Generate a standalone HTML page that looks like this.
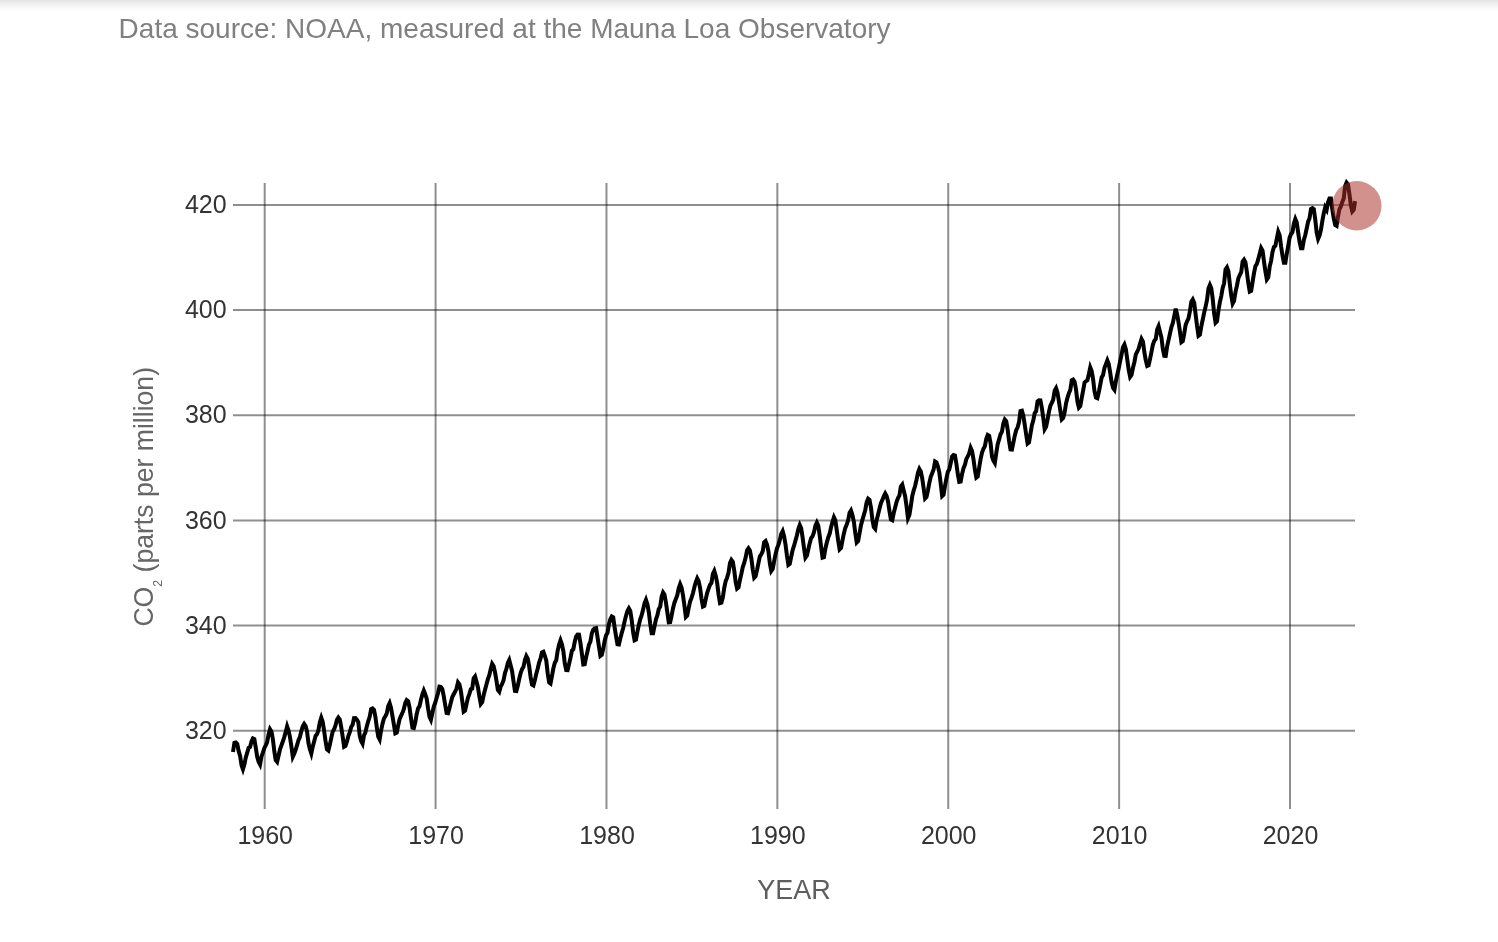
<!DOCTYPE html>
<html><head><meta charset="utf-8"><style>
html,body{margin:0;padding:0;background:#fff;}
body{width:1498px;height:942px;overflow:hidden;position:relative;font-family:"Liberation Sans",sans-serif;}
.shadow{position:absolute;left:0;top:0;width:1498px;height:12px;background:linear-gradient(to bottom,rgba(0,0,0,0.11),rgba(0,0,0,0.05) 40%,rgba(0,0,0,0.01) 80%,rgba(0,0,0,0));}
svg{position:absolute;left:0;top:0;will-change:transform;}
</style></head><body>
<div class="shadow"></div>
<svg width="1498" height="942" viewBox="0 0 1498 942" font-family="Liberation Sans, sans-serif">
<text x="118.6" y="38" font-size="28" fill="#808080">Data source: NOAA, measured at the Mauna Loa Observatory</text>
<g stroke="rgba(0,0,0,0.44)" stroke-width="2" fill="none">
<line x1="233" y1="204.90" x2="1355" y2="204.90"/>
<line x1="233" y1="310.06" x2="1355" y2="310.06"/>
<line x1="233" y1="415.22" x2="1355" y2="415.22"/>
<line x1="233" y1="520.38" x2="1355" y2="520.38"/>
<line x1="233" y1="625.54" x2="1355" y2="625.54"/>
<line x1="233" y1="730.70" x2="1355" y2="730.70"/>
<line x1="264.70" y1="183" x2="264.70" y2="809"/>
<line x1="435.58" y1="183" x2="435.58" y2="809"/>
<line x1="606.47" y1="183" x2="606.47" y2="809"/>
<line x1="777.35" y1="183" x2="777.35" y2="809"/>
<line x1="948.23" y1="183" x2="948.23" y2="809"/>
<line x1="1119.12" y1="183" x2="1119.12" y2="809"/>
<line x1="1290.00" y1="183" x2="1290.00" y2="809"/>
</g>
<g font-size="25" fill="#333" text-anchor="end">
<text x="226.6" y="213.1">420</text>
<text x="226.6" y="318.3">400</text>
<text x="226.6" y="423.4">380</text>
<text x="226.6" y="528.6">360</text>
<text x="226.6" y="633.7">340</text>
<text x="226.6" y="738.9">320</text>
</g>
<g font-size="25" fill="#333" text-anchor="middle">
<text x="265.2" y="843.5">1960</text>
<text x="436.1" y="843.5">1970</text>
<text x="607.0" y="843.5">1980</text>
<text x="777.8" y="843.5">1990</text>
<text x="948.7" y="843.5">2000</text>
<text x="1119.6" y="843.5">2010</text>
<text x="1290.5" y="843.5">2020</text>
</g>
<text x="794" y="898.8" font-size="27" fill="#5e5e5e" text-anchor="middle">YEAR</text>
<text transform="translate(153.4,626.6) rotate(-90) scale(0.986,1.055)" font-size="27" fill="#666">CO<tspan font-size="12.5" dy="8.3">2</tspan><tspan dy="-8.3"> (parts per million)</tspan></text>
<polyline points="232.98,752.01 234.41,742.81 235.83,742.49 237.26,743.91 238.68,751.17 240.10,756.06 241.53,765.15 242.95,769.20 244.38,764.47 245.80,757.43 247.22,752.64 248.65,747.91 250.07,747.01 251.50,741.39 252.92,738.39 254.34,739.13 255.77,747.59 257.19,756.74 258.62,761.79 260.04,764.47 261.46,756.69 262.89,752.64 264.31,748.17 265.74,745.28 267.16,742.12 268.58,734.50 270.01,729.24 271.43,731.56 272.86,738.97 274.28,750.91 275.70,760.11 277.13,761.84 278.55,755.69 279.98,749.43 281.40,745.54 282.82,741.49 284.25,737.08 285.67,732.13 287.10,726.35 288.52,730.61 289.94,736.92 291.37,746.28 292.79,756.74 294.22,753.69 295.64,749.91 297.06,745.12 298.49,740.23 299.91,737.02 301.34,731.08 302.76,726.40 304.18,724.04 305.61,726.14 307.03,731.45 308.46,743.07 309.88,749.12 311.30,753.48 312.73,746.80 314.15,741.49 315.58,736.03 317.00,734.29 318.43,730.14 319.85,722.14 321.27,717.57 322.70,721.62 324.12,730.77 325.55,741.13 326.97,749.33 328.39,750.48 329.82,744.81 331.24,738.08 332.67,731.66 334.09,729.35 335.51,725.51 336.94,719.73 338.36,717.52 339.79,719.46 341.21,727.09 342.63,736.29 344.06,746.75 345.48,745.86 346.91,741.60 348.33,736.18 349.75,732.34 351.18,727.09 352.60,724.72 354.03,718.20 355.45,718.04 356.87,719.57 358.30,722.09 359.72,735.71 361.15,740.92 362.57,743.60 363.99,735.34 365.42,732.45 366.84,726.14 368.27,721.04 369.69,716.83 371.11,709.05 372.54,708.32 373.96,709.68 375.39,716.83 376.81,727.45 378.23,736.55 379.66,739.39 381.08,730.50 382.51,723.72 383.93,718.52 385.35,716.26 386.78,713.42 388.20,706.16 389.63,703.11 391.05,707.89 392.47,716.04 393.90,724.56 395.32,733.34 396.75,732.61 398.17,725.56 399.59,719.09 401.02,715.89 402.44,712.84 403.87,708.95 405.29,703.00 406.71,700.11 408.14,701.22 409.56,707.63 410.99,718.31 412.41,727.66 413.83,728.09 415.26,722.46 416.68,714.20 418.11,708.37 419.53,706.16 420.96,699.80 422.38,694.38 423.80,690.60 425.23,694.12 426.65,698.43 428.08,708.47 429.50,716.78 430.92,719.83 432.35,713.05 433.77,706.58 435.20,702.79 436.62,697.96 438.04,692.96 439.47,686.60 440.89,686.92 442.32,689.07 443.74,696.06 445.16,704.74 446.59,713.10 448.01,713.31 449.44,708.32 450.86,702.43 452.28,696.96 453.71,694.28 455.13,691.70 456.56,688.44 457.98,682.45 459.40,684.34 460.83,690.70 462.25,700.85 463.68,711.73 465.10,710.68 466.52,704.16 467.95,697.80 469.37,693.80 470.80,689.28 472.22,688.65 473.64,678.29 475.07,676.45 476.49,681.60 477.92,687.13 479.34,696.17 480.76,703.95 482.19,702.06 483.61,695.22 485.04,689.70 486.46,684.44 487.88,679.13 489.31,675.24 490.73,668.93 492.16,663.78 493.58,665.94 495.00,672.25 496.43,680.45 497.85,689.91 499.28,691.65 500.70,686.49 502.12,683.97 503.55,680.24 504.97,673.09 506.40,669.04 507.82,662.89 509.24,659.99 510.67,665.46 512.09,671.19 513.52,681.45 514.94,690.91 516.36,691.12 517.79,685.76 519.21,679.03 520.64,672.98 522.06,669.14 523.49,666.83 524.91,660.15 526.33,656.10 527.76,658.68 529.18,666.41 530.61,677.08 532.03,684.71 533.45,685.55 534.88,680.13 536.30,673.77 537.73,668.46 539.15,662.36 540.57,658.31 542.00,652.42 543.42,651.74 544.85,655.79 546.27,660.73 547.69,673.24 549.12,682.34 550.54,683.39 551.97,676.03 553.39,668.30 554.81,662.83 556.24,660.36 557.66,650.79 559.09,644.59 560.51,640.38 561.93,644.38 563.36,651.16 564.78,663.36 566.21,670.04 567.63,670.14 569.05,664.15 570.48,657.89 571.90,650.79 573.33,649.22 574.75,641.80 576.17,636.39 577.60,634.60 579.02,634.70 580.45,643.12 581.87,653.63 583.29,664.36 584.72,664.15 586.14,657.10 587.57,651.06 588.99,644.54 590.41,641.64 591.84,633.34 593.26,629.76 594.69,628.39 596.11,628.13 597.53,637.17 598.96,646.59 600.38,655.89 601.81,654.79 603.23,648.90 604.65,641.01 606.08,635.28 607.50,632.97 608.93,624.19 610.35,619.35 611.77,616.46 613.20,617.25 614.62,627.39 616.05,636.33 617.47,644.27 618.89,644.48 620.32,638.59 621.74,633.07 623.17,627.97 624.59,621.35 626.02,615.77 627.44,610.94 628.86,608.31 630.29,610.88 631.71,620.14 633.14,632.44 634.56,640.28 635.98,639.59 637.41,631.71 638.83,624.87 640.26,619.19 641.68,615.14 643.10,609.47 644.53,603.37 645.95,599.90 647.38,604.31 648.80,612.04 650.22,623.77 651.65,633.28 653.07,633.23 654.50,626.34 655.92,619.51 657.34,615.41 658.77,608.99 660.19,606.73 661.62,596.64 663.04,592.53 664.46,594.64 665.89,602.21 667.31,612.30 668.74,622.40 670.16,622.24 671.58,615.88 673.01,608.20 674.43,602.68 675.86,599.05 677.28,595.22 678.70,588.28 680.13,584.12 681.55,587.59 682.98,595.16 684.40,605.57 685.82,616.88 687.25,615.46 688.67,608.15 690.10,601.68 691.52,597.84 692.94,593.22 694.37,587.17 695.79,582.07 697.22,578.34 698.64,581.14 700.06,587.77 701.49,598.77 702.91,606.51 704.34,605.80 705.76,599.05 707.18,592.83 708.61,588.56 710.03,584.75 711.46,582.84 712.88,573.89 714.30,570.98 715.73,575.68 717.15,582.91 718.58,594.60 720.00,603.04 721.42,602.58 722.85,597.27 724.27,587.70 725.70,581.18 727.12,577.65 728.55,572.66 729.97,563.14 731.39,559.88 732.82,561.83 734.24,570.45 735.67,582.12 737.09,588.64 738.51,587.50 739.94,579.92 741.36,573.90 742.79,567.05 744.21,562.93 745.63,557.60 747.06,550.38 748.48,548.37 749.91,550.51 751.33,558.32 752.75,569.35 754.18,577.64 755.60,576.16 757.03,570.17 758.45,563.18 759.87,556.40 761.30,554.30 762.72,551.20 764.15,542.37 765.57,541.11 766.99,544.52 768.42,551.35 769.84,563.49 771.27,571.01 772.69,569.02 774.11,561.28 775.54,554.22 776.96,548.42 778.39,544.89 779.81,540.09 781.23,533.82 782.66,531.07 784.08,536.19 785.51,544.47 786.93,555.59 788.35,564.97 789.78,563.92 791.20,556.76 792.63,550.12 794.05,545.74 795.47,540.63 796.90,535.41 798.32,529.14 799.75,525.07 801.17,528.30 802.59,537.37 804.02,548.23 805.44,557.61 806.87,555.66 808.29,549.52 809.71,543.13 811.14,538.04 812.56,536.17 813.99,532.30 815.41,525.58 816.83,522.50 818.26,525.59 819.68,535.15 821.11,546.70 822.53,557.63 823.95,557.13 825.38,548.68 826.80,542.60 828.23,537.47 829.65,533.85 831.08,527.19 832.50,521.80 833.92,517.29 835.35,520.36 836.77,530.26 838.20,540.74 839.62,549.38 841.04,548.01 842.47,540.41 843.89,533.43 845.32,527.83 846.74,524.64 848.16,520.09 849.59,512.85 851.01,510.56 852.44,515.09 853.86,521.72 855.28,533.03 856.71,542.50 858.13,541.00 859.56,533.14 860.98,525.28 862.40,519.90 863.83,515.09 865.25,509.97 866.68,501.96 868.10,498.68 869.52,499.86 870.95,507.47 872.37,519.54 873.80,527.03 875.22,528.74 876.64,520.04 878.07,514.49 879.49,508.68 880.92,503.18 882.34,500.10 883.76,496.24 885.19,493.47 886.61,496.03 888.04,501.43 889.46,511.19 890.88,519.38 892.31,520.18 893.73,513.06 895.16,507.48 896.58,501.94 898.00,498.04 899.43,495.45 900.85,486.49 902.28,484.59 903.70,490.47 905.12,496.25 906.55,506.29 907.97,518.22 909.40,514.95 910.82,506.06 912.24,496.17 913.67,490.49 915.09,486.02 916.52,479.76 917.94,472.76 919.36,468.97 920.79,471.45 922.21,478.24 923.64,488.29 925.06,498.44 926.48,496.92 927.91,490.61 929.33,482.83 930.76,476.79 932.18,473.17 933.61,469.54 935.03,461.55 936.45,462.45 937.88,466.28 939.30,472.37 940.73,483.87 942.15,496.00 943.57,494.67 945.00,485.98 946.42,478.38 947.85,471.79 949.27,469.45 950.69,463.23 952.12,456.58 953.54,455.09 954.97,455.59 956.39,463.77 957.81,474.16 959.24,481.92 960.66,481.60 962.09,474.04 963.51,468.17 964.93,464.87 966.36,459.10 967.78,456.48 969.21,453.18 970.63,447.78 972.05,451.03 973.48,459.33 974.90,469.67 976.33,477.50 977.75,476.38 979.17,467.70 980.60,459.17 982.02,452.54 983.45,448.85 984.87,446.22 986.29,438.90 987.72,434.90 989.14,435.76 990.57,443.08 991.99,456.51 993.41,460.63 994.84,463.02 996.26,453.27 997.69,444.21 999.11,439.35 1000.53,434.28 1001.96,431.58 1003.38,423.35 1004.81,419.55 1006.23,421.11 1007.65,429.46 1009.08,441.02 1010.50,449.36 1011.93,449.54 1013.35,442.66 1014.77,435.72 1016.20,430.15 1017.62,427.26 1019.05,421.96 1020.47,411.02 1021.89,410.61 1023.32,415.77 1024.74,424.72 1026.17,434.46 1027.59,443.52 1029.01,442.37 1030.44,433.85 1031.86,425.33 1033.29,420.33 1034.71,413.13 1036.14,411.19 1037.56,401.30 1038.98,400.30 1040.41,400.37 1041.83,407.79 1043.26,417.64 1044.68,429.27 1046.10,426.89 1047.53,419.81 1048.95,411.89 1050.38,405.75 1051.80,402.83 1053.22,399.64 1054.65,390.66 1056.07,388.21 1057.50,392.67 1058.92,401.55 1060.34,410.80 1061.77,419.31 1063.19,417.89 1064.62,412.32 1066.04,403.39 1067.46,397.82 1068.89,393.14 1070.31,389.99 1071.74,380.27 1073.16,379.53 1074.58,381.66 1076.01,389.41 1077.43,401.74 1078.86,407.60 1080.28,406.00 1081.70,398.04 1083.13,390.56 1084.55,382.49 1085.98,381.22 1087.40,380.20 1088.82,374.19 1090.25,367.39 1091.67,371.06 1093.10,379.35 1094.52,391.49 1095.94,397.57 1097.37,398.25 1098.79,392.31 1100.22,384.79 1101.64,377.53 1103.06,374.96 1104.49,367.81 1105.91,364.18 1107.34,360.39 1108.76,364.07 1110.18,372.69 1111.61,382.04 1113.03,387.76 1114.46,389.68 1115.88,381.22 1117.30,374.54 1118.73,368.28 1120.15,361.08 1121.58,354.45 1123.00,347.20 1124.42,344.62 1125.85,349.30 1127.27,359.45 1128.70,369.86 1130.12,376.96 1131.54,375.04 1132.97,367.79 1134.39,362.22 1135.82,354.44 1137.24,351.60 1138.67,348.61 1140.09,343.51 1141.51,338.84 1142.94,341.53 1144.36,352.16 1145.79,360.38 1147.21,365.96 1148.63,365.38 1150.06,358.80 1151.48,351.79 1152.91,344.57 1154.33,340.77 1155.75,339.13 1157.18,329.60 1158.60,326.32 1160.03,332.10 1161.45,337.61 1162.87,349.23 1164.30,355.85 1165.72,355.92 1167.15,346.35 1168.57,339.94 1169.99,333.47 1171.42,327.01 1172.84,322.90 1174.27,315.96 1175.69,308.65 1177.11,314.12 1178.54,322.38 1179.96,331.74 1181.39,342.04 1182.81,340.99 1184.23,333.53 1185.66,324.80 1187.08,321.27 1188.51,318.33 1189.93,311.07 1191.35,301.61 1192.78,299.40 1194.20,302.72 1195.63,314.57 1197.05,326.09 1198.47,335.83 1199.90,334.70 1201.32,326.26 1202.75,319.50 1204.17,312.64 1205.59,306.63 1207.02,299.92 1208.44,288.49 1209.87,284.99 1211.29,288.40 1212.71,298.80 1214.14,313.61 1215.56,322.75 1216.99,321.30 1218.41,310.66 1219.83,302.40 1221.26,296.08 1222.68,287.86 1224.11,283.28 1225.53,269.34 1226.95,267.27 1228.38,271.28 1229.80,283.80 1231.23,295.42 1232.65,303.53 1234.07,300.87 1235.50,291.93 1236.92,285.73 1238.35,278.26 1239.77,275.16 1241.20,272.22 1242.62,261.54 1244.04,259.70 1245.47,262.38 1246.89,272.06 1248.32,283.15 1249.74,291.57 1251.16,290.88 1252.59,281.94 1254.01,273.06 1255.44,266.07 1256.86,263.86 1258.28,259.18 1259.71,253.55 1261.13,248.14 1262.56,250.75 1263.98,261.46 1265.40,271.32 1266.83,279.56 1268.25,277.58 1269.68,266.64 1271.10,260.86 1272.52,251.82 1273.95,246.98 1275.37,245.82 1276.80,238.72 1278.22,231.68 1279.64,235.30 1281.07,246.34 1282.49,255.64 1283.92,262.78 1285.34,262.78 1286.76,253.79 1288.19,246.12 1289.61,237.66 1291.04,234.09 1292.46,232.14 1293.88,223.37 1295.31,219.01 1296.73,222.37 1298.16,232.61 1299.58,241.97 1301.00,248.32 1302.43,248.32 1303.85,240.02 1305.28,234.92 1306.70,228.46 1308.12,221.68 1309.55,218.21 1310.97,208.96 1312.40,208.17 1313.82,209.17 1315.24,219.58 1316.67,232.68 1318.09,238.83 1319.52,235.52 1320.94,229.84 1322.36,220.90 1323.79,213.12 1325.21,207.39 1326.64,209.86 1328.06,202.39 1329.48,198.39 1330.91,198.39 1332.33,209.38 1333.76,218.37 1335.18,224.89 1336.60,225.79 1338.03,216.69 1339.45,209.12 1340.88,206.39 1342.30,201.97 1343.73,198.39 1345.15,185.93 1346.57,182.57 1348.00,184.25 1349.42,193.98 1350.85,205.28 1352.27,211.43 1353.69,209.80 1355.12,201.18" fill="none" stroke="#000" stroke-width="4.0" stroke-linejoin="miter" stroke-miterlimit="4" stroke-linecap="butt"/>
<circle cx="1356.8" cy="205.8" r="24.7" fill="rgba(170,48,40,0.53)"/>
</svg>
</body></html>
